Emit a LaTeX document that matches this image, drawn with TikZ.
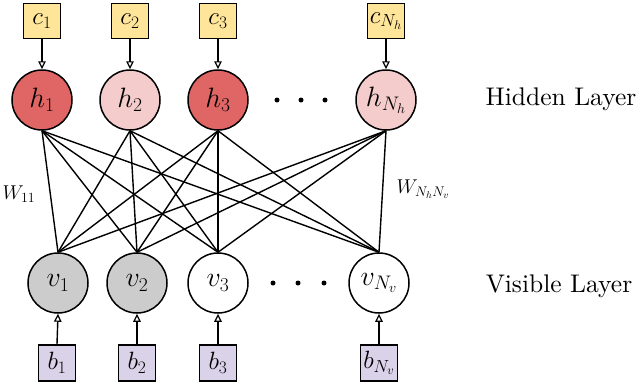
\documentclass[tikz,border=0pt]{standalone}
\usepackage{fix-cm}
\usepackage{fontspec}
\setmainfont{lmroman10-regular.otf}
\usetikzlibrary{arrows.meta}
\definecolor{hdark}{HTML}{E06666}
\definecolor{hlight}{HTML}{F4CCCC}
\definecolor{cyel}{HTML}{FFE599}
\definecolor{blav}{HTML}{D9D2E9}
\definecolor{vgray}{HTML}{CCCCCC}
\tikzset{
  unit/.style={circle,draw=black,line width=1.5pt,minimum size=60pt,inner sep=0pt,font=\fontsize{28}{32}\selectfont},
  bias/.style={rectangle,draw=black,line width=1.5pt,minimum width=37pt,minimum height=35pt,inner sep=0pt,font=\fontsize{25}{28}\selectfont},
  conn/.style={line width=1.4pt},
  feed/.style={line width=1.4pt,-{Triangle[open,length=8pt,width=7.5pt,line width=1.2pt]}},
  dotmark/.style={circle,fill=black,minimum size=5pt,inner sep=0pt},
  layertxt/.style={anchor=base,font=\fontsize{25.5}{30}\selectfont},
  wlab/.style={font=\fontsize{20}{24}\selectfont}
}
\begin{document}
\begin{tikzpicture}[x=1pt,y=-1pt]
\useasboundingbox (0,0) rectangle (640,383);
% hidden units
\node[unit,fill=hdark]  (h1) at (42,100) {$h_1$};
\node[unit,fill=hlight] (h2) at (130,100) {$h_2$};
\node[unit,fill=hdark]  (h3) at (218,100) {$h_3$};
\node[unit,fill=hlight] (hN) at (386,100) {$h_{N_h}$};
% visible units
\node[unit,fill=vgray] (v1) at (58,283) {$v_1$};
\node[unit,fill=vgray] (v2) at (137,283) {$v_2$};
\node[unit,fill=white] (v3) at (218,283) {$v_3$};
\node[unit,fill=white] (vN) at (379,283) {$v_{N_v}$};
% hidden biases
\node[bias,fill=cyel] (c1) at (42,21) {$c_1$};
\node[bias,fill=cyel] (c2) at (130,21) {$c_2$};
\node[bias,fill=cyel] (c3) at (218,21) {$c_3$};
\node[bias,fill=cyel] (cN) at (386,21) {$c_{N_h}$};
% visible biases
\node[bias,fill=blav,minimum height=36pt] (b1) at (57,363) {$b_1$};
\node[bias,fill=blav,minimum height=36pt] (b2) at (137,363) {$b_2$};
\node[bias,fill=blav,minimum height=36pt] (b3) at (218,363) {$b_3$};
\node[bias,fill=blav,minimum height=36pt] (bN) at (379,363) {$b_{N_v}$};
% bias arrows
\foreach \i in {1,2,3,N} {
  \draw[feed] (c\i.south) -- (h\i.north);
  \draw[feed] (b\i.north) -- (v\i.south);
}
% weights
\foreach \i in {1,2,3,N} {
  \foreach \j in {1,2,3,N} {
    \draw[conn] (h\i.south) -- (v\j.north);
  }
}
% dots
\node[dotmark] (hd1) at (277,100) {};
\node[dotmark] (hd2) at (301,100) {};
\node[dotmark] (hd3) at (325,100) {};
\node[dotmark] (vd1) at (273,283) {};
\node[dotmark] (vd2) at (298,283) {};
\node[dotmark] (vd3) at (324,283) {};
% labels
\node[wlab] (w11) at (19,194) {$W_{11}$};
\node[wlab] (wNN) at (423,189) {$W_{N_hN_v}$};
\node[layertxt] (hl) at (561,105) {Hidden Layer};
\node[layertxt] (vl) at (559,292) {Visible Layer};
\end{tikzpicture}
\end{document}
